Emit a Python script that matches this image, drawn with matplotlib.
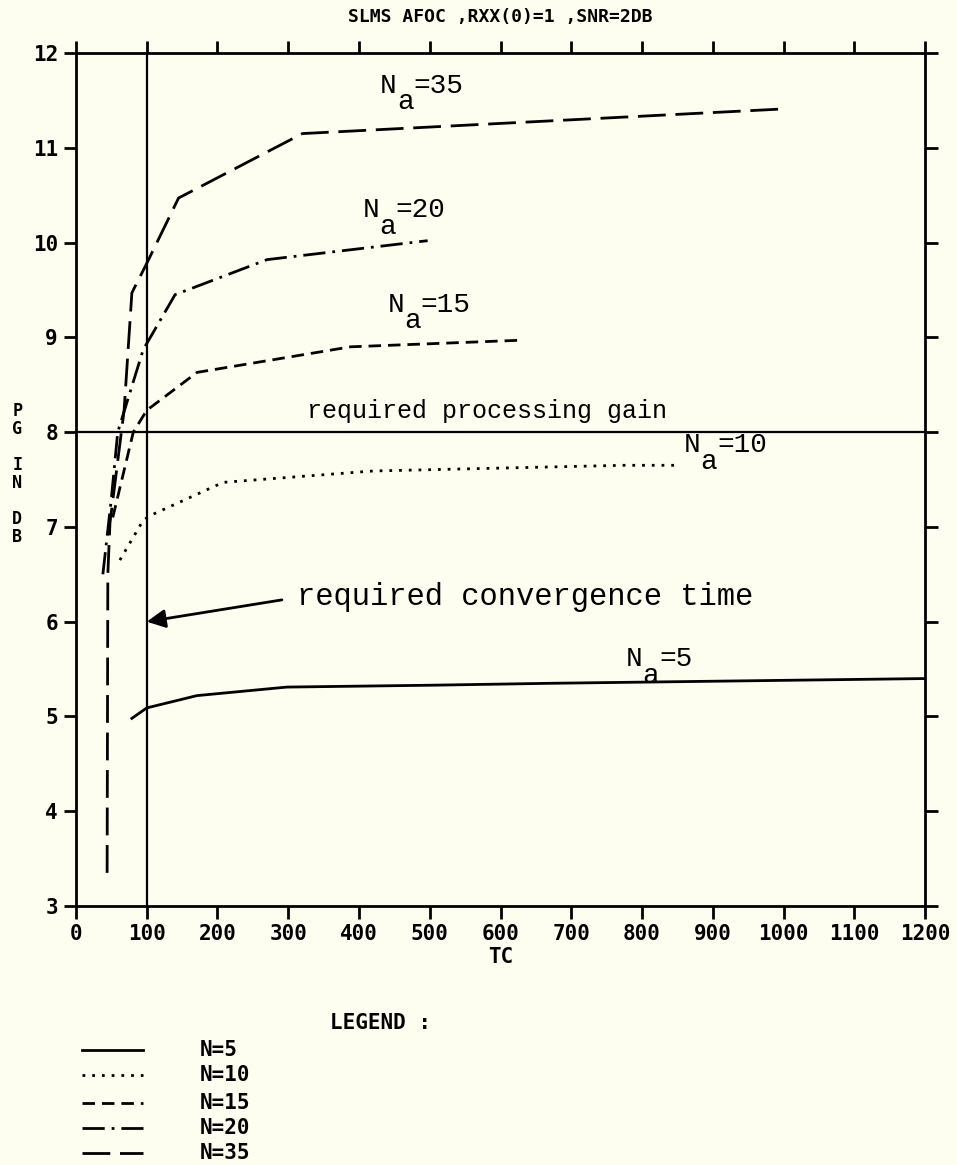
import matplotlib
matplotlib.use('Agg')
import matplotlib.pyplot as plt
from matplotlib.lines import Line2D

# processing gain (dB) against convergence time TC, one curve per N
tc_n5 = [79, 100, 171, 298, 505, 671, 1200]
pg_n5 = [4.98, 5.09, 5.22, 5.31, 5.33, 5.35, 5.40]

tc_n10 = [62, 95, 105, 208, 420, 774, 855]
pg_n10 = [6.65, 7.07, 7.12, 7.47, 7.59, 7.65, 7.65]

tc_n15 = [52, 81, 100, 171, 388, 630]
pg_n15 = [7.10, 8.00, 8.23, 8.63, 8.90, 8.97]

tc_n20 = [38, 50, 59, 95, 140, 270, 497]
pg_n20 = [6.50, 7.30, 8.00, 8.87, 9.45, 9.82, 10.02]

tc_n35 = [44, 45, 48, 68, 79, 100, 145, 320, 1000]
pg_n35 = [3.35, 6.50, 7.04, 8.23, 9.47, 9.78, 10.47, 11.15, 11.41]

series_names = ['5', '10', '15', '20', '35']
series_tc = [tc_n5, tc_n10, tc_n15, tc_n20, tc_n35]
series_pg = [pg_n5, pg_n10, pg_n15, pg_n20, pg_n35]

required_gain = 8.0
required_tc = 100

x_ticks = list(range(0, 1300, 100))
y_ticks = list(range(3, 13))

bg = '#fdfdf0'
mono = 'Liberation Mono'
block = 'DejaVu Sans Mono'

styles = {
    '5': '-',
    '10': (0, (1, 2.5)),
    '15': (0, (4.5, 2.5)),
    '20': (0, (8, 2.5, 1, 2.5)),
    '35': (0, (10, 3.5)),
}

fig = plt.figure(figsize=(9.57, 11.65), dpi=100, facecolor=bg)
ax = fig.add_axes([0.0794, 0.2223, 0.8872, 0.7322], facecolor=bg)

for name, tc, pg in zip(series_names, series_tc, series_pg):
    ax.plot(tc, pg, color='black', lw=2, linestyle=styles[name])

ax.axhline(required_gain, color='black', lw=1.6)
ax.axvline(required_tc, color='black', lw=1.6)

ax.set_xlim(0, 1200)
ax.set_ylim(3, 12)
ax.set_xticks(x_ticks)
ax.set_yticks(y_ticks)
ax.set_xticklabels([str(v) for v in x_ticks], fontsize=15, fontweight='bold', family=block)
ax.set_yticklabels([str(v) for v in y_ticks], fontsize=15, fontweight='bold', family=block)
ax.tick_params(axis='both', direction='out', length=9, width=2, pad=4,
               top=True, right=True)
for s in ax.spines.values():
    s.set_linewidth(2)

ax.set_xlabel('TC', fontsize=15, fontweight='bold', family=block, labelpad=2)
ax.set_title('SLMS AFOC ,RXX(0)=1 ,SNR=2DB', fontsize=13, fontweight='bold',
             family=block, pad=22)

# stacked y label
fig.text(0.018, 0.593, 'P\nG\n\nI\nN\n\nD\nB', fontsize=12, fontweight='bold',
         family=block, ha='center', va='center', linespacing=1.0)


def na_label(x, y, value, size=20):
    # N, lowered subscript a, then =value, each one character cell apart
    cell = 0.6 * size
    ax.text(x, y, 'N', fontsize=size, family=mono, va='baseline')
    ax.annotate('a', xy=(x, y), xytext=(cell, -12), textcoords='offset points',
                fontsize=size, family=mono, va='baseline')
    ax.annotate('=' + value, xy=(x, y), xytext=(2 * cell, 0),
                textcoords='offset points', fontsize=size, family=mono,
                va='baseline')


na_label(430, 11.58, '35')
na_label(405, 10.27, '20')
na_label(440, 9.27, '15')
na_label(859, 7.79, '10')
na_label(777, 5.53, '5')

ax.text(327, 8.15, 'required processing gain', fontsize=18, family=mono,
        va='baseline')
ax.text(313, 6.18, 'required convergence time', fontsize=22, family=mono,
        va='baseline')
ax.annotate('', xy=(required_tc, 6.0), xytext=(291, 6.23),
            arrowprops=dict(arrowstyle='-|>', lw=2, color='black',
                            mutation_scale=28, shrinkA=0, shrinkB=0))

# legend block under the axes
fig.text(0.345, 1 - 1023 / 1165, 'LEGEND :', fontsize=15, fontweight='bold',
         family=block, va='center')
row_y = [1050, 1075, 1103, 1128, 1153]
for name, py in zip(series_names, row_y):
    yf = 1 - py / 1165
    fig.add_artist(Line2D([82 / 957, 143 / 957], [yf, yf], color='black', lw=2,
                          linestyle=styles[name], transform=fig.transFigure))
    fig.text(200 / 957, yf, 'N=' + name, fontsize=15, fontweight='bold',
             family=block, va='center')

fig.savefig('out.png', dpi=100, facecolor=bg)
